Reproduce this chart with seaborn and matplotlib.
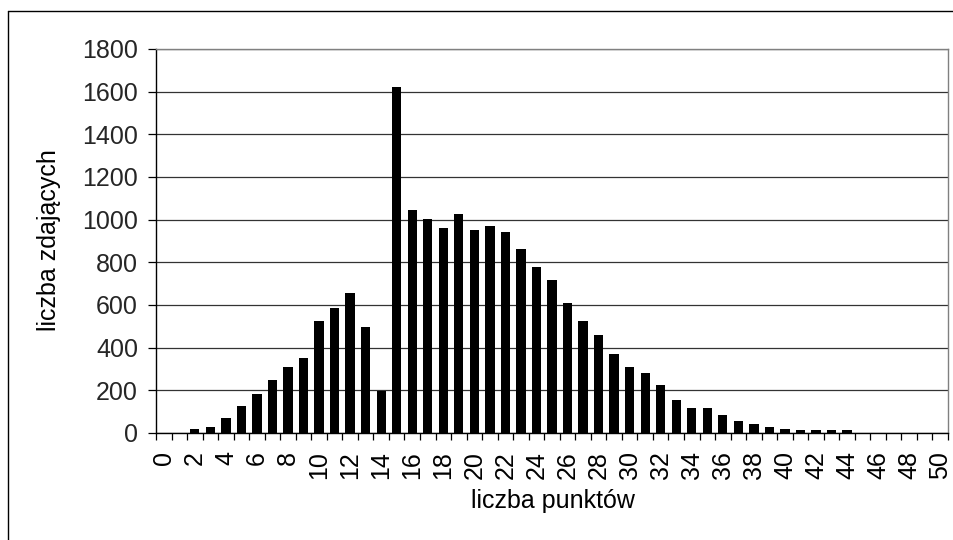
import numpy as np
import pandas as pd
import matplotlib
matplotlib.use("Agg")
import matplotlib.pyplot as plt
from matplotlib.lines import Line2D
from matplotlib.ticker import FixedLocator
import seaborn as sns

# data
points = list(range(0, 51))
counts = [0, 0, 20, 30, 72, 125, 185, 247, 308, 353,
          523, 585, 654, 495, 195, 1622, 1046, 1004, 960, 1028,
          950, 969, 942, 862, 776, 715, 610, 523, 458, 369,
          309, 283, 223, 155, 118, 117, 84, 56, 40, 30,
          20, 12, 12, 12, 12, 0, 0, 0, 0, 0, 0]
y_ticks = [0, 200, 400, 600, 800, 1000, 1200, 1400, 1600, 1800]
x_label_vals = list(range(0, 51, 2))
x_title = "liczba punktów"
y_title = "liczba zdających"

df = pd.DataFrame({"pkt": points, "n": counts})

sns.set_theme(style="white")
plt.rcParams['font.family'] = ['Liberation Sans', 'DejaVu Sans']

W, H = 954, 540
fig = plt.figure(figsize=(W / 100, H / 100), dpi=100)
L, R, T, B = 156, 948, 49, 433
ax = fig.add_axes([L / W, 1 - B / H, (R - L) / W, (B - T) / H])

sns.barplot(data=df, x="pkt", y="n", order=points, color="black",
            width=0.6, saturation=1, ax=ax, edgecolor="black", linewidth=0)

ax.set_xlim(-0.5, len(points) - 0.5)
ax.set_ylim(0, 1800)
ax.set_yticks(y_ticks)
ax.set_yticklabels([str(v) for v in y_ticks])
ax.yaxis.grid(True, color="#333333", linewidth=0.9)
ax.set_axisbelow(True)

# x ticks: labels every 2 categories, tick marks at category boundaries
ax.set_xticks([points.index(v) for v in x_label_vals])
ax.set_xticklabels([str(v) for v in x_label_vals], rotation=90)
ax.xaxis.set_minor_locator(FixedLocator(np.arange(-0.5, len(points), 1.0)))
ax.tick_params(axis="x", which="major", length=0, pad=13, labelsize=18, colors="black")
ax.tick_params(axis="x", which="minor", length=5, width=0.9, color="black", direction="out", bottom=True)
ax.tick_params(axis="y", which="major", length=6, width=0.9, color="black", direction="out",
               pad=7, labelsize=18, left=True)

for side in ["left", "bottom"]:
    ax.spines[side].set_color("black")
    ax.spines[side].set_linewidth(1.0)
for side in ["top", "right"]:
    ax.spines[side].set_visible(True)
    ax.spines[side].set_color("#808080")
    ax.spines[side].set_linewidth(1.0)

ax.set_xlabel("")
ax.set_ylabel("")
fig.text(553 / W, 1 - 501 / H, x_title, ha="center", va="center", fontsize=18, color="black")
fig.text(49 / W, 1 - 240 / H, y_title, ha="center", va="center", rotation=90, fontsize=18, color="black")

# outer chart frame (left and top visible)
fig.add_artist(Line2D([8.5 / W, 8.5 / W], [0, 1 - 10.5 / H], transform=fig.transFigure, color="black", lw=1.0))
fig.add_artist(Line2D([8.5 / W, 1], [1 - 10.5 / H, 1 - 10.5 / H], transform=fig.transFigure, color="black", lw=1.0))

fig.savefig("out.png", dpi=100, facecolor="white")
